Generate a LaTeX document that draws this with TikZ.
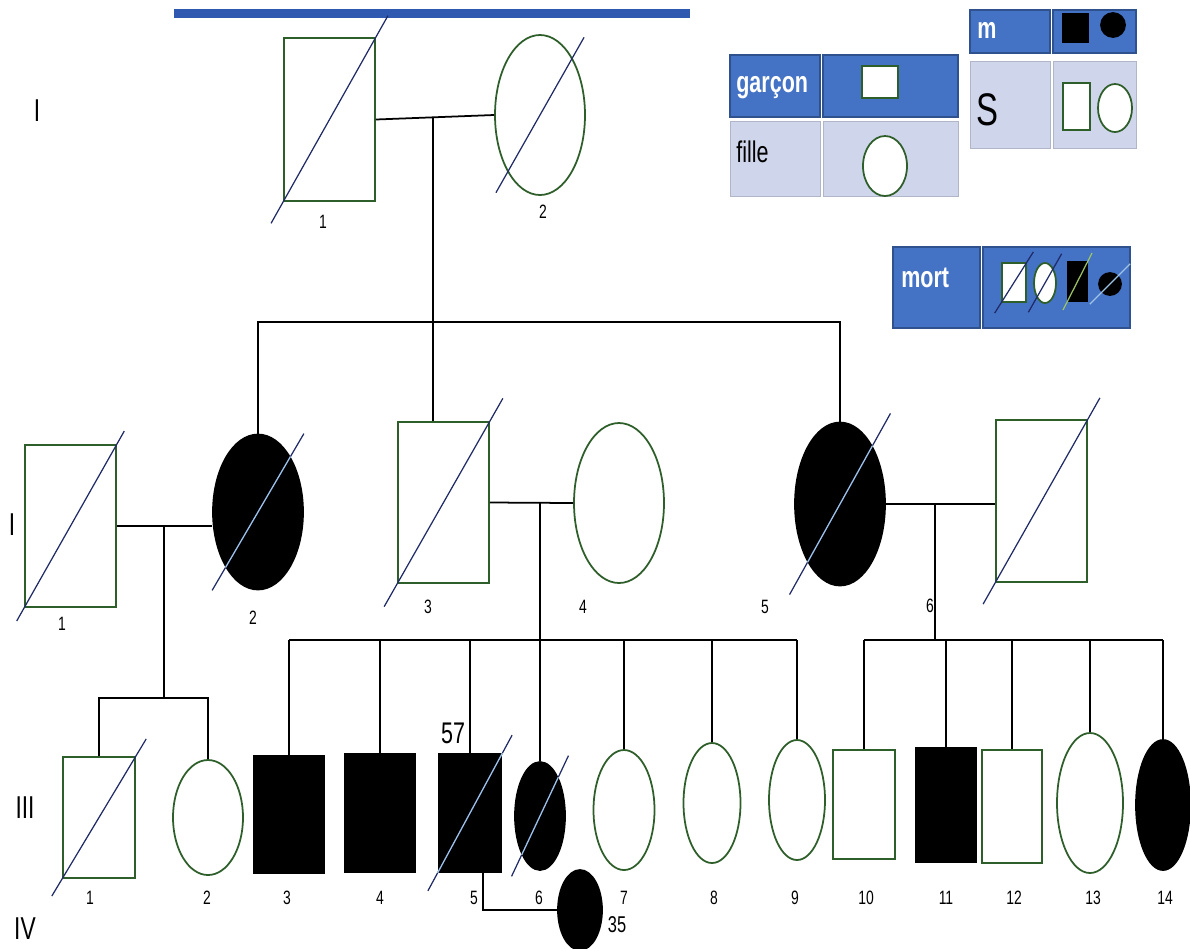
\documentclass[tikz,border=0pt]{standalone}
\usepackage{fontspec}
\setmainfont[FakeStretch=0.72]{Liberation Sans}
\usetikzlibrary{shapes.geometric,calc}

\definecolor{pedgreen}{HTML}{2E5E2A}
\definecolor{deadnavy}{HTML}{1F2A66}
\definecolor{deadblue}{HTML}{9DC3E6}
\definecolor{deadgreen}{HTML}{9BC364}
\definecolor{cellblue}{HTML}{4472C4}
\definecolor{celledge}{HTML}{2F528F}
\definecolor{cellgrey}{HTML}{CFD5EA}
\definecolor{barblue}{HTML}{2F58B0}

\tikzset{
	male/.style={rectangle, draw=pedgreen, line width=1pt, fill=white, inner sep=0pt},
	female/.style={ellipse, draw=pedgreen, line width=1pt, fill=white, inner sep=0pt},
	aff/.style={fill=black, draw=black},
	sz/.style 2 args={minimum width=#1*0.02cm, minimum height=#2*0.02cm},
	link/.style={line width=1pt},
	deadline/.style={line width=0.7pt, draw=deadnavy},
	deadlight/.style={line width=0.7pt, draw=deadblue},
	num/.style={font=\fontsize{11}{13}\selectfont, inner sep=0pt},
	gen/.style={font=\fontsize{18}{21}\selectfont, inner sep=0pt},
	cell/.style={rectangle, fill=cellblue, draw=celledge, line width=0.8pt, inner sep=0pt},
	greycell/.style={rectangle, fill=cellgrey, draw=cellgrey!85!black, line width=0.4pt, inner sep=0pt},
	celltext/.style={anchor=west, inner sep=0pt, font=\fontsize{17}{20}\selectfont\bfseries, text=white}
}

% slash through a symbol, #2 = where it starts on the box diagonal
\newcommand\deceased[2]{\draw[deadline] ($(#1.south -| #1.west)!#2!(#1.north -| #1.east)$) -- ($(#1.north -| #1.east)!#2!(#1.south -| #1.west)$);}
\newcommand\deceasedaff[3]{\deceased{#1}{#2}
	\draw[deadlight] ($(#1.south -| #1.west)!#3!(#1.north -| #1.east)$) -- ($(#1.north -| #1.east)!#3!(#1.south -| #1.west)$);}

\begin{document}
\begin{tikzpicture}[x=0.02cm, y=-0.02cm]
	\useasboundingbox (0,0) rectangle (1190,948);
	\fill[barblue] (174,9) rectangle (690,18);

	% generation I
	\node[male, sz={91}{163}] (i1) at (329.5,119.5) {};
	\node[female, sz={90}{160}] (i2) at (540,115) {};
	\deceased{i1}{-0.13}
	\deceased{i2}{0.02}
	\coordinate (m1) at (433,117);
	\draw[link] (i1.east) -- (i2.west);

	% generation II
	\node[male, sz={91}{162}] (ii1) at (70.5,526) {};
	\node[female, aff, sz={90}{155}] (ii2) at (258,512) {};
	\node[male, sz={91}{161}] (ii3) at (443.5,502.5) {};
	\node[female, sz={90}{160}] (ii4) at (619,503) {};
	\node[female, aff, sz={90}{163}] (ii5) at (840,504) {};
	\node[male, sz={91}{162}] (ii6) at (1041.5,501) {};
	\deceased{ii1}{-0.08}
	\deceasedaff{ii2}{0}{0.146}
	\deceased{ii3}{-0.14}
	\deceasedaff{ii5}{-0.05}{0.146}
	\deceased{ii6}{-0.13}

	\coordinate (s1) at (433,322);
	\draw[link] (m1) -- (m1 |- ii3.north);
	\draw[link] (ii2.north) |- (s1) -| (ii5.north);

	\draw[link] (ii1.east) -- (ii1.east -| ii2.west);
	\draw[link] (ii3.east) -- (ii4.west);
	\draw[link] (ii5.east) -- (ii5.east -| ii6.west);
	\coordinate (m2) at (164,526);
	\coordinate (m3) at (540,503);
	\coordinate (m4) at (935,505);

	% generation III
	\node[male, sz={72}{121}] (iii1) at (99,817.5) {};
	\node[female, sz={70}{115}] (iii2) at (208,817.5) {};
	\node[male, aff, sz={70}{117}] (iii3) at (289,814.5) {};
	\node[male, aff, sz={70}{118}] (iii4) at (380,813) {};
	\node[male, aff, sz={63}{118}] (iii5) at (470,813) {};
	\node[female, aff, sz={50}{108}] (iii6) at (540,816) {};
	\node[female, sz={61}{120}] (iii7) at (624,810) {};
	\node[female, sz={57}{120}] (iii8) at (712,803) {};
	\node[female, sz={56}{120}] (iii9) at (797,800) {};
	\node[male, sz={62}{109}] (iii10) at (864,804.5) {};
	\node[male, aff, sz={61}{114}] (iii11) at (946,805) {};
	\node[male, sz={60}{113}] (iii12) at (1012,806.5) {};
	\node[female, sz={66}{140}] (iii13) at (1090,803) {};
	\node[female, aff, sz={54}{130}] (iii14) at (1163,805) {};
	\deceased{iii1}{-0.14}
	\deceasedaff{iii5}{-0.15}{0}
	\deceasedaff{iii6}{-0.05}{0.146}

	\coordinate (s2) at (164,698);
	\draw[link] (m2) -- (s2);
	\draw[link] (iii1.north) |- (s2) -| (iii2.north);

	\coordinate (s3) at (540,640);
	\draw[link] (m3) -- (s3);
	\draw[link] (iii3.north |- s3) -- (iii9.north |- s3);
	\foreach \n in {iii3,iii4,iii5,iii6,iii7,iii8,iii9}
		\draw[link] (\n.north) -- (\n.north |- s3);

	\coordinate (s4) at (935,640);
	\draw[link] (m4) -- (s4);
	\draw[link] (iii10.north |- s4) -- (iii14.north |- s4);
	\foreach \n in {iii10,iii11,iii12,iii13,iii14}
		\draw[link] (\n.north) -- (\n.north |- s4);

	% generation IV
	\node[female, aff, sz={44}{80}] (iv1) at (580,910) {};
	\draw[link] ([xshift=0.26cm]iii5.south) |- (iv1.west);

	% numbers
	\foreach \x/\y/\t [count=\k] in {323/222/1, 543/212/2,
		62/624/1, 253/618/2, 428/607/3, 583/607/4, 765/607/5, 930/606/6}
		\node[num] (no\k) at (\x,\y) {\t};
	\foreach \x/\t in {90/1, 207/2, 287/3, 380/4, 474/5, 539/6, 624/7,
		714/8, 795/9, 866/10, 946/11, 1014/12, 1093/13, 1165/14}
		\node[num] (nc\t) at (\x,898) {\t};
	\node[num, font=\fontsize{17}{20}\selectfont] (age57) at (453,733) {57};
	\node[num, font=\fontsize{13}{15}\selectfont] (age35) at (617,925) {35};

	\node[gen] (g1) at (37,111) {I};
	\node[gen] (g2) at (12,525) {I};
	\node[gen] (g3) at (25,808) {III};
	\node[gen] (g4) at (25,929) {IV};

	% legend
	\node[cell, sz={90}{62}] (lg1) at (775,86) {};
	\node[cell, sz={135}{62}] (lg2) at (890.5,86) {};
	\node[greycell, sz={90}{75}] (lg3) at (775,158.5) {};
	\node[greycell, sz={135}{75}] (lg4) at (890.5,158.5) {};
	\node[celltext] (tg) at (736,88) {garçon};
	\node[celltext, text=black, font=\fontsize{17}{20}\selectfont] (tf) at (736,152) {fille};
	\node[male, sz={36}{32}] (sg) at (880,82) {};
	\node[female, sz={44}{60}] (sf) at (885,166) {};

	\node[cell, sz={80}{43}] (lm1) at (1010,31.5) {};
	\node[cell, sz={83}{43}] (lm2) at (1094.5,31.5) {};
	\node[greycell, sz={80}{87}] (ls1) at (1010,104.5) {};
	\node[greycell, sz={83}{87}] (ls2) at (1094.5,104.5) {};
	\node[celltext] (tm) at (977,30) {m};
	\node[celltext, text=black, font=\fontsize{26}{30}\selectfont] (ts) at (976,110) {S};
	\node[male, aff, sz={25}{28}] (sm1) at (1075.5,28) {};
	\node[female, aff, sz={24}{24}] (sm2) at (1113,25) {};
	\node[male, sz={27}{47}] (ss1) at (1076.5,106.5) {};
	\node[female, sz={34}{48}] (ss2) at (1115,108) {};

	\node[cell, sz={87}{81}] (lx1) at (936.5,287.5) {};
	\node[cell, sz={147}{81}] (lx2) at (1056.5,287.5) {};
	\node[celltext] (tx) at (901,278) {mort};
	\node[male, sz={24}{39}] (sx1) at (1014,282.5) {};
	\node[female, sz={22}{40}] (sx2) at (1045,283) {};
	\node[male, aff, sz={19}{39}] (sx3) at (1077.5,281.5) {};
	\node[female, aff, sz={22}{22}] (sx4) at (1110,284) {};
	\deceased{sx1}{-0.25}
	\deceased{sx2}{-0.2}
	\draw[deadline, draw=deadgreen] ($(sx3.south -| sx3.west)!-0.2!(sx3.north -| sx3.east)$) -- ($(sx3.north -| sx3.east)!-0.2!(sx3.south -| sx3.west)$);
	\draw[deadlight] ($(sx4.south -| sx4.west)!-0.35!(sx4.north -| sx4.east)$) -- ($(sx4.north -| sx4.east)!-0.35!(sx4.south -| sx4.west)$);
\end{tikzpicture}
\end{document}
